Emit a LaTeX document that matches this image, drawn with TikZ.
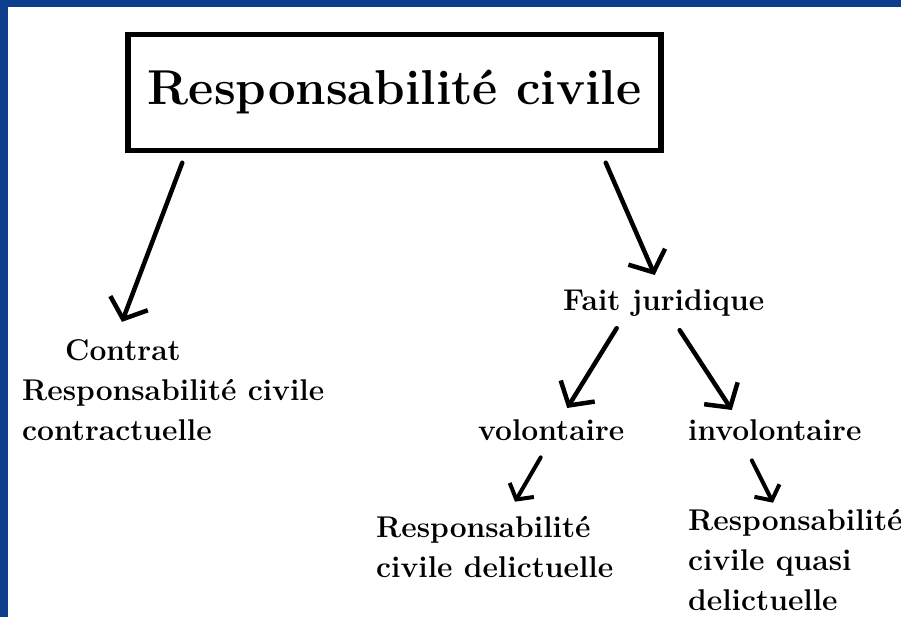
\documentclass[tikz,border=0pt]{standalone}
\usepackage{tikz}
\usetikzlibrary{arrows.meta}
\definecolor{frameblue}{RGB}{12,62,140}

\begin{document}
\begin{tikzpicture}[x=1pt,y=-1pt,>={Straight Barb[length=17pt,width=40pt]},
        txt/.style={inner sep=0pt,font=\fontsize{30}{40}\selectfont\bfseries,align=left},
        bigarrow/.style={->,line width=4.5pt,line cap=round},
        smallarrow/.style={-{Straight Barb[length=11pt,width=28pt]},line width=4pt,line cap=round}]
        \useasboundingbox (0,0) rectangle (901,617);

        % Frame.
        \fill[frameblue] (0,0) rectangle (901,7);
        \fill[frameblue] (0,0) rectangle (8,617);

        % Title.
        \node[draw,line width=5.5pt,minimum width=533pt,minimum height=116pt,inner sep=0pt,
            font=\fontsize{49}{49}\selectfont\bfseries] (title) at (394.5,92.5) {\raisebox{3pt}{Responsabilité civile}};

        % Texts (base is the last line).
        \node[txt,anchor=base west] (contrat) at (22,440) {\hspace*{43pt}Contrat\\Responsabilité civile\\contractuelle};
        \node[txt,anchor=base west] (fait) at (563,310) {Fait juridique};
        \node[txt,anchor=base west] (volont) at (478,440) {volontaire};
        \node[txt,anchor=base west] (involont) at (688,440) {involontaire};
        \node[txt,anchor=base west] (delict) at (376,577) {Responsabilité\\civile delictuelle};
        \node[txt,anchor=base west] (quasi) at (688,610) {Responsabilité\\civile quasi\\delictuelle};

        % Arrows.
        \draw[bigarrow] ([shift={(57,9.5)}]title.south west) -- ([shift={(100,-17)}]contrat.north west);
        \draw[bigarrow] ([shift={(-58,9.5)}]title.south east) -- ([shift={(-9,-14)}]fait.north);
        \draw[bigarrow] ([shift={(-47,12)}]fait.south) -- ([shift={(16,-11)}]volont.north);
        \draw[bigarrow] ([shift={(16,14)}]fait.south) -- ([shift={(-43,-9)}]involont.north);
        \draw[smallarrow] ([shift={(-10.5,17)}]volont.south) -- ([shift={(139,-14)}]delict.north west);
        \draw[smallarrow] ([shift={(-23,20)}]involont.south) -- ([shift={(85,-6)}]quasi.north west);
    \end{tikzpicture}
\end{document}
